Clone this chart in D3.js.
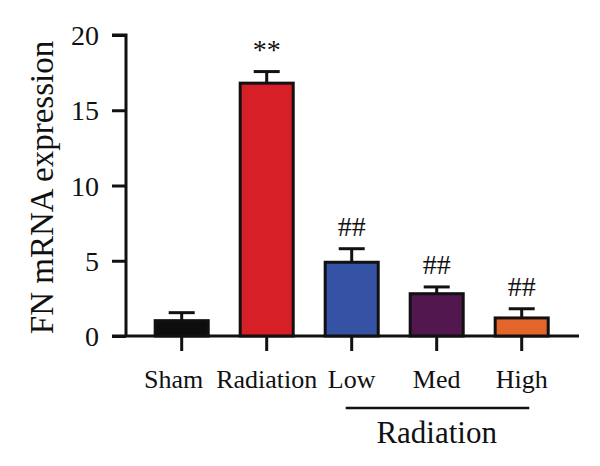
<!DOCTYPE html>
<html lang="en">

<head>
    <meta charset="utf-8">
    <title>FN mRNA expression</title>
    <script type="text/javascript" src="https://cdn.jsdelivr.net/npm/d3@7"></script>
    <style type="text/css">
    body {
        margin: 0;
        background: white;
    }
    </style>
</head>

<body>
    <script type="text/javascript">
    //data
    var groups = ["Sham", "Radiation", "Low", "Med", "High"];
    var means = [1.02, 16.8, 4.9, 2.81, 1.2];
    var errs = [0.53, 0.77, 0.9, 0.45, 0.61];
    var marks = ["", "**", "##", "##", "##"];
    var colors = ["#0d0d0d", "#d71f27", "#3652a5", "#52174f", "#e2662a"];
    var yTicks = [0, 5, 10, 15, 20];

    var font = '"Liberation Serif", "DejaVu Serif", serif';
    var ink = '#111';

    //svg size
    var w = 600;
    var h = 466;

    var svg = d3.select('body')
        .append('svg')
        .attr('width', w)
        .attr('height', h)
        .attr('font-family', font);

    //scales
    var x = d3.scaleBand()
        .domain(groups)
        .range([139.2, 564.2])
        .paddingInner(0.376)
        .paddingOuter(0.188);

    var y = d3.scaleLinear()
        .domain([0, 20])
        .range([336, 35]);

    //y axis
    var yAxis = svg.append('g')
        .attr('transform', 'translate(126,0)')
        .call(d3.axisLeft(y).tickValues(yTicks).tickSize(14).tickPadding(13));
    yAxis.select('.domain').attr('d', 'M-14,' + y(20) + 'H0V' + y(0));
    yAxis.selectAll('text')
        .attr('font-size', 28)
        .attr('dy', '0.34em');

    //x axis
    var xAxis = svg.append('g')
        .attr('transform', 'translate(0,' + y(0) + ')')
        .call(d3.axisBottom(x).tickSize(15).tickPadding(19));
    xAxis.select('.domain').attr('d', 'M112,0H579');
    xAxis.selectAll('text')
        .attr('font-size', 26)
        .attr('dx', function(d, i) {
            return i === 0 ? -8 : 0;
        });

    svg.selectAll('.tick line, .domain')
        .attr('stroke', ink)
        .attr('stroke-width', 3)
        .attr('fill', 'none');
    svg.selectAll('.tick text')
        .attr('fill', ink)
        .attr('font-family', font);
    svg.selectAll('g').attr('font-family', font);

    //error bars (drawn before bars so lower half is hidden)
    var eb = svg.selectAll('g.err')
        .data(groups)
        .enter()
        .append('g')
        .attr('class', 'err')
        .attr('stroke', ink)
        .attr('stroke-width', 3);

    eb.append('line')
        .attr('x1', function(d) { return x(d) + x.bandwidth() / 2; })
        .attr('x2', function(d) { return x(d) + x.bandwidth() / 2; })
        .attr('y1', function(d, i) { return y(means[i]); })
        .attr('y2', function(d, i) { return y(means[i] + errs[i]); });

    eb.append('line')
        .attr('x1', function(d) { return x(d) + x.bandwidth() / 2 - 13; })
        .attr('x2', function(d) { return x(d) + x.bandwidth() / 2 + 13; })
        .attr('y1', function(d, i) { return y(means[i] + errs[i]); })
        .attr('y2', function(d, i) { return y(means[i] + errs[i]); });

    //bars
    svg.selectAll('rect.bar')
        .data(groups)
        .enter()
        .append('rect')
        .attr('class', 'bar')
        .attr('x', function(d) { return x(d); })
        .attr('width', x.bandwidth())
        .attr('y', function(d, i) { return y(means[i]); })
        .attr('height', function(d, i) { return y(0) - y(means[i]); })
        .attr('fill', function(d, i) { return colors[i]; })
        .attr('stroke', ink)
        .attr('stroke-width', 3);

    //significance marks
    svg.selectAll('text.sig')
        .data(groups)
        .enter()
        .append('text')
        .attr('class', 'sig')
        .attr('x', function(d) { return x(d) + x.bandwidth() / 2; })
        .attr('y', function(d, i) { return y(means[i] + errs[i]) - 13; })
        .attr('text-anchor', 'middle')
        .attr('fill', ink)
        .attr('font-size', 28)
        .text(function(d, i) { return marks[i]; });

    //group bracket
    svg.append('line')
        .attr('x1', 345.7)
        .attr('x2', 529.3)
        .attr('y1', 408)
        .attr('y2', 408)
        .attr('stroke', ink)
        .attr('stroke-width', 2.5);

    svg.append('text')
        .attr('x', (x('Low') + x('High') + x.bandwidth()) / 2)
        .attr('y', 443)
        .attr('text-anchor', 'middle')
        .attr('fill', ink)
        .attr('font-size', 31)
        .text('Radiation');

    //y title
    svg.append('text')
        .attr('transform', 'translate(53,187.5) rotate(-90)')
        .attr('text-anchor', 'middle')
        .attr('fill', ink)
        .attr('font-size', 33)
        .text('FN mRNA expression');
    </script>
</body>

</html>
